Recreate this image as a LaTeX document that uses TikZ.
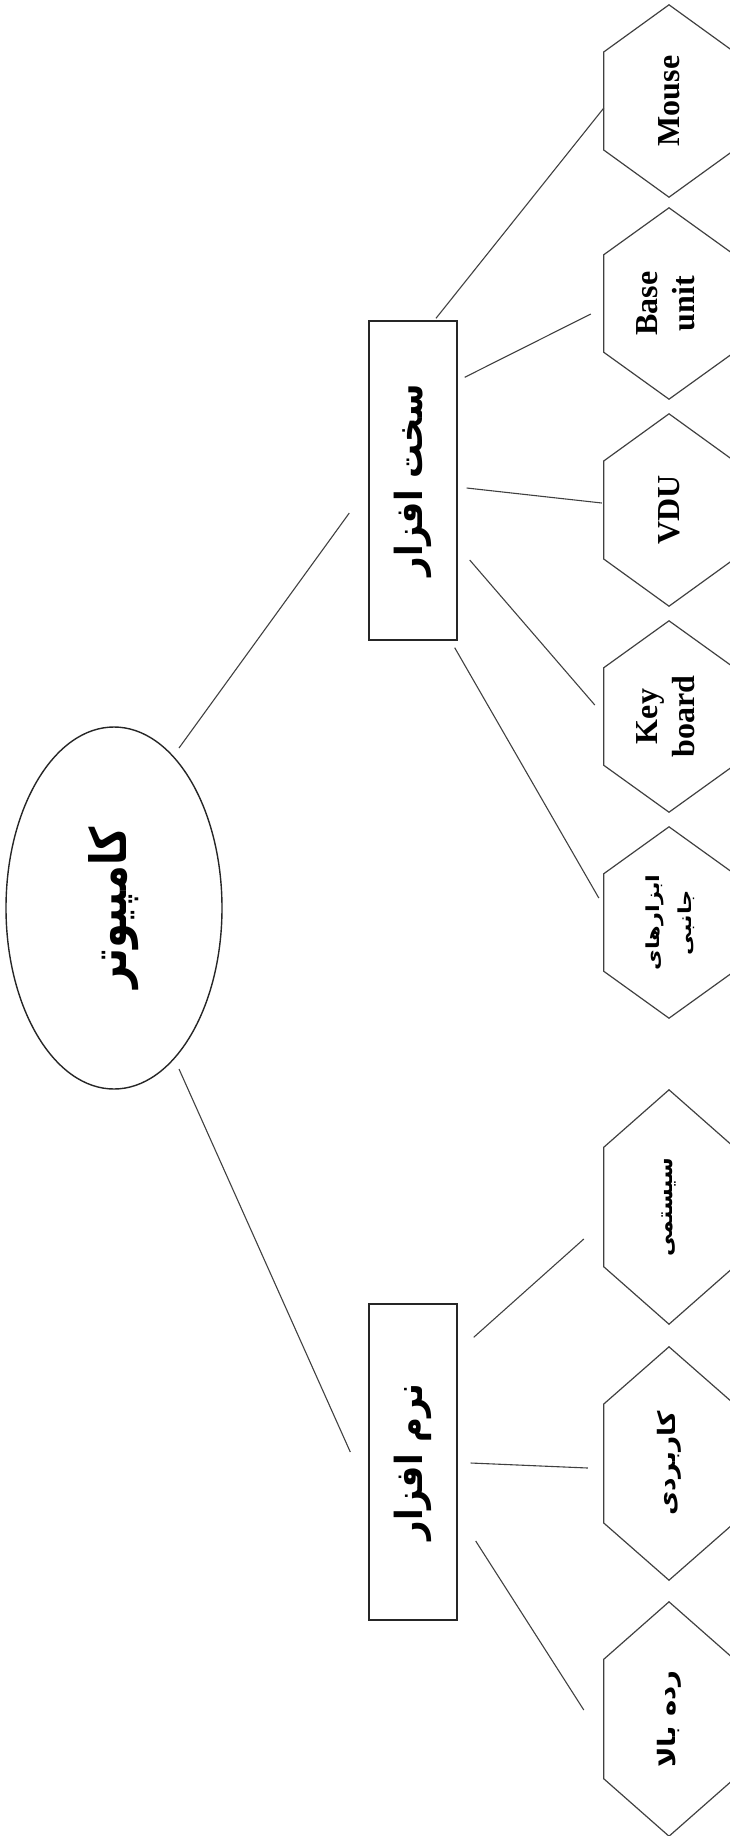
\documentclass[tikz,border=0pt]{standalone}
\usepackage{fontspec}
\usepackage{graphicx}
\setmainfont{Liberation Serif}
\newfontfamily\fa[Script=Arabic]{DejaVu Sans}
\TeXXeTstate=1
\usetikzlibrary{calc,shapes.geometric}
\begin{document}
\begin{tikzpicture}[x=1pt,y=-1pt,
  conn/.style={draw=black!75, line width=1.1pt},
  boxnode/.style={draw=black!85, line width=1.4pt, minimum width=88pt, minimum height=#1, inner sep=0pt},
  boxnode/.default=319pt,
  hexnode/.style={minimum width=130pt, minimum height=#1, inner sep=0pt},
  hexnode/.default=192pt,
  ellnode/.style={draw=black!85, line width=1.4pt, ellipse, minimum width=216pt, minimum height=362pt, inner sep=0pt},
  hexdraw/.style={draw=black!75, line width=1.2pt},
  lat/.style={font=\bfseries\fontsize{32}{37}\selectfont},
  fabig/.style={font=\fa\bfseries\fontsize{40}{44}\selectfont},
  fabox/.style={font=\fa\bfseries\fontsize{34}{40}\selectfont},
  fahex/.style={font=\fa\bfseries\fontsize{22}{26}\selectfont},
  famid/.style={font=\fa\bfseries\fontsize{24}{28}\selectfont},
  fasmall/.style={font=\fa\bfseries\fontsize{18}{32}\selectfont}
]
\useasboundingbox (0,0) rectangle (730,1836);

% root
\node[ellnode, fabig] (root) at (114,908) {\rotatebox{90}{\scalebox{1}[1.25]{\beginR کامپیوتر\endR}}};

% level 1
\node[boxnode, fabox] (hw) at (413,480.5) {\rotatebox{90}{\scalebox{1}[1.1]{\beginR سخت افزار\endR}}};
\node[boxnode=316pt, fabox] (sw) at (413,1462) {\rotatebox{90}{\scalebox{1}[1.1]{\beginR نرم افزار\endR}}};

% hardware children
\node[hexnode, lat] (mouse) at (669,101) {\rotatebox{90}{Mouse}};
\node[hexnode=191pt, lat] (base) at (669,303.5) {\rotatebox{90}{\begin{tabular}{@{}c@{}}Base\\unit\end{tabular}}};
\node[hexnode, lat] (vdu) at (669,510) {\rotatebox{90}{VDU}};
\node[hexnode=191pt, lat] (key) at (669,716.5) {\rotatebox{90}{\begin{tabular}{@{}c@{}}Key\\board\end{tabular}}};
\node[hexnode=191pt, fasmall] (abzar) at (669,922.5) {\rotatebox{90}{\scalebox{1.25}[1]{\begin{tabular}{@{}c@{}}\beginR ابزارهای\endR\\\beginR جانبی\endR\end{tabular}}}};

% software children
\node[hexnode=234pt, fahex] (sys) at (669,1207) {\rotatebox{90}{\beginR سیستمی\endR}};
\node[hexnode=233pt, famid] (app) at (669,1463.5) {\rotatebox{90}{\scalebox{1.1}[1]{\beginR کاربردی\endR}}};
\node[hexnode=234pt, famid] (high) at (669,1719) {\rotatebox{90}{\scalebox{1.15}[1]{\beginR رده بالا\endR}}};

% hexagon outlines
\foreach \n in {mouse,base,vdu,key,abzar,sys,app,high}{
  \draw[hexdraw] (\n.north) -- ($(\n.north west)!0.245!(\n.south west)$)
    -- ($(\n.south west)!0.245!(\n.north west)$) -- (\n.south)
    -- ($(\n.south east)!0.245!(\n.north east)$)
    -- ($(\n.north east)!0.245!(\n.south east)$) -- cycle;
}

% connectors
\draw[conn] ($(root.center)+(65,-160)$) -- ($(hw.west)+(-19,32.5)$);
\draw[conn] ($(root.center)+(65,161)$) -- ($(sw.west)+(-18,-10)$);

\draw[conn] ($(hw.north)+(23,-2)$) -- ($(mouse.west)+(0,7)$);
\draw[conn] ($(hw.north east)+(7,57)$) -- ($(base.west)+(-13,10.5)$);
\draw[conn] ($(hw.east)+(9,7.5)$) -- ($(vdu.west)+(-2,-7)$);
\draw[conn] ($(hw.east)+(12,79.5)$) -- ($(key.west)+(-9,-11.5)$);
\draw[conn] ($(hw.south east)+(-3,7)$) -- ($(abzar.west)+(-5,-24.5)$);

\draw[conn] ($(sw.north east)+(16,34)$) -- ($(sys.west)+(-20,32)$);
\draw[conn] ($(sw.east)+(13,1)$) -- ($(app.west)+(-16,4.5)$);
\draw[conn] ($(sw.east)+(18,79)$) -- ($(high.west)+(-20,-9)$);
\end{tikzpicture}
\end{document}
